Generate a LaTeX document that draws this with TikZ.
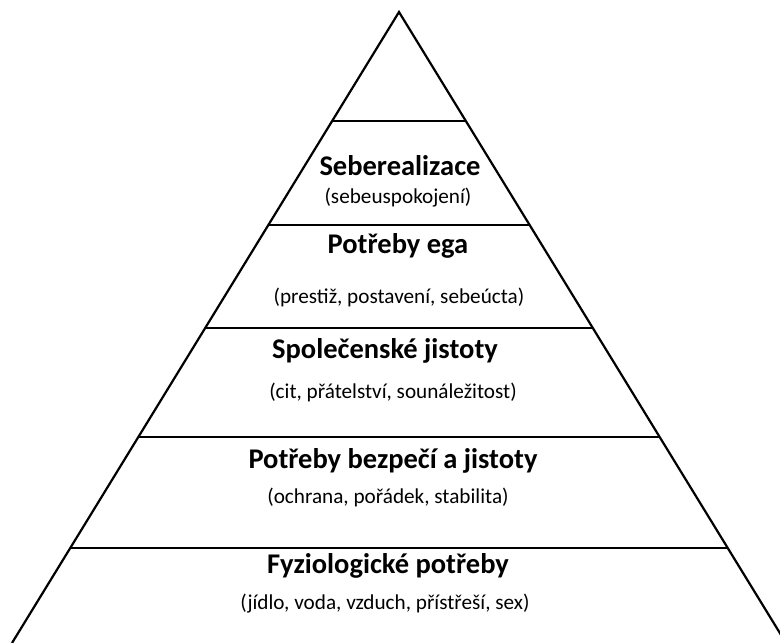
\documentclass[tikz,border=0pt]{standalone}
\usepackage{fontspec}
\setmainfont{Carlito}
\usetikzlibrary{calc}
\tikzset{
  edge/.style={line width=2.2pt, black},
  title/.style={anchor=base, inner sep=0pt, font=\fontsize{28.5}{32}\selectfont\bfseries},
  sub/.style={anchor=base, inner sep=0pt, font=\fontsize{21.2}{25}\selectfont},
}
\begin{document}
\begin{tikzpicture}[x=1pt,y=-1pt]
\useasboundingbox (0,0) rectangle (780,643);
\begin{scope}
\clip (0,0) rectangle (780,643);
\coordinate (apex) at (399,12);
\coordinate (bl) at (12,643);
\coordinate (br) at (786,643);
\draw[edge, line join=miter] (bl) -- (apex) -- (br);
\foreach \t/\n in {0.1727/a,0.3376/b,0.5008/c,0.6735/d,0.8494/e}{
  \coordinate (L\n) at ($(apex)!\t!(bl)$);
  \coordinate (R\n) at ($(apex)!\t!(br)$);
  \draw[edge] (L\n) -- (R\n);
}
\end{scope}
\node[title] (t1) at (400,175) {Seberealizace};
\node[sub] (s1) at (398,203) {(sebeuspokojení)};
\node[title] (t2) at (398,253) {Potřeby ega};
\node[sub] (s2) at (399,303) {(prestiž, postavení, sebeúcta)};
\node[title] (t3) at (385,358) {Společenské jistoty};
\node[sub] (s3) at (393,398) {(cit, přátelství, sounáležitost)};
\node[title] (t4) at (393,468) {Potřeby bezpečí a jistoty};
\node[sub] (s4) at (388,503) {(ochrana, pořádek, stabilita)};
\node[title] (t5) at (388,573) {Fyziologické potřeby};
\node[sub] (s5) at (385,609) {(jídlo, voda, vzduch, přístřeší, sex)};
\end{tikzpicture}
\end{document}
